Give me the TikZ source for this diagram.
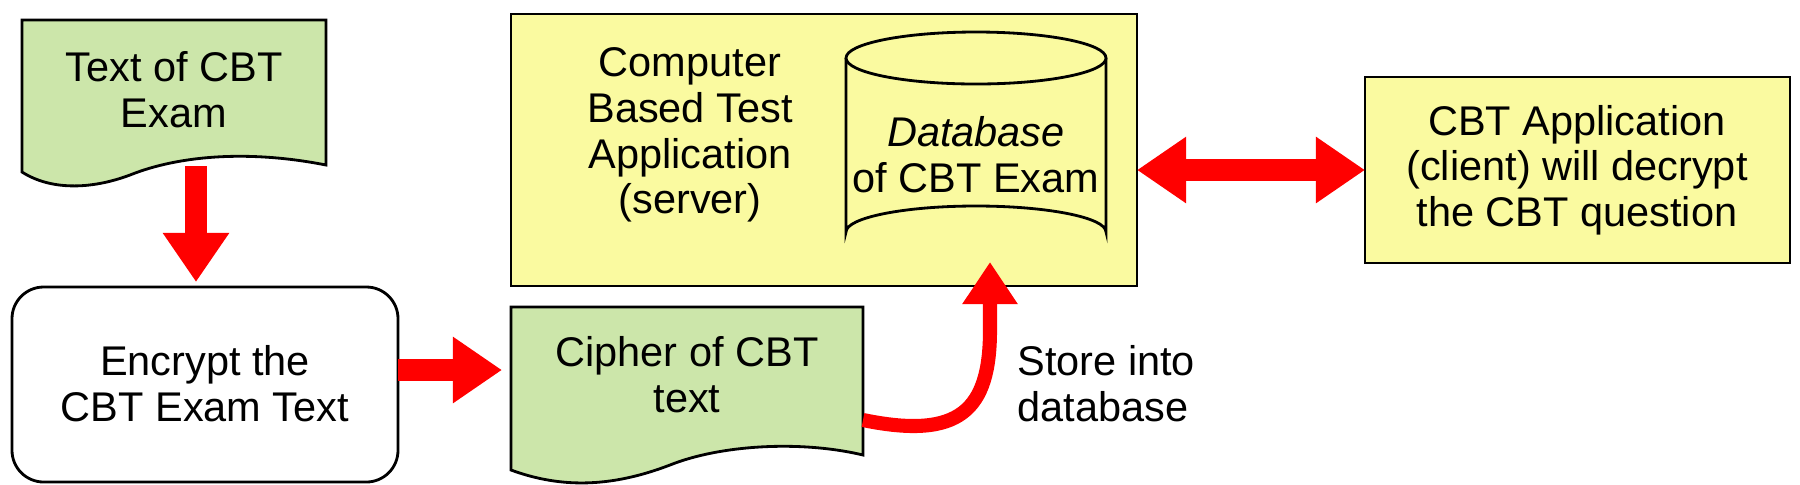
\documentclass[tikz,border=0pt]{standalone}
\usepackage{fontspec}
\setmainfont{Liberation Sans}
\usetikzlibrary{shapes.geometric,arrows.meta}
\definecolor{docgreen}{HTML}{CCE6AA}
\definecolor{boxyellow}{HTML}{FAFAA0}
\tikzset{
  txt/.style={font=\fontsize{11.8}{13}\selectfont, align=center},
  fat/.style={red, line width=6pt, -{Triangle[length=14pt,width=18pt]}},
  fatboth/.style={red, line width=6pt, {Triangle[length=14pt,width=18pt]}-{Triangle[length=14pt,width=18pt]}},
  outl/.style={draw=black, line width=0.8pt},
}
\begin{document}
\begin{tikzpicture}[x=0.01cm,y=-0.01cm]
\useasboundingbox (0,0) rectangle (1800,484);
% document 1
\draw[outl, fill=docgreen] (22,20) -- (326,20) -- (326,165)
  .. controls (250,150) and (180,155) .. (130,175)
  .. controls (90,190) and (50,190) .. (22,172) -- cycle;
\node[txt] (t1) at (174,90) {Text of CBT\\Exam};
% encrypt
\draw[outl, rounded corners=9pt] (12,287) rectangle (398,482);
\node[txt] (e) at (205,384) {Encrypt the\\CBT Exam Text};
\coordinate (a1s) at (196,166);
\coordinate (a1e) at (196,282);
\draw[fat] (a1s) -- (a1e);
\coordinate (a2s) at (398,370);
\coordinate (a2e) at (502,370);
\draw[fat] (a2s) -- (a2e);
% cipher doc
\draw[outl, fill=docgreen] (511,307) -- (863,307) -- (863,455)
  .. controls (800,440) and (720,445) .. (670,465)
  .. controls (610,488) and (560,488) .. (511,470) -- cycle;
\node[txt] (c) at (687,375) {Cipher of CBT\\text};
% server box
\draw[outl, fill=boxyellow] (511,14) rectangle (1137,286);
\node[txt] (srv) at (690,135) {Computer\\Based Test\\Application\\(server)};
% cylinder
\draw[outl, fill=boxyellow] (846,58) -- (846,232) arc[start angle=180,end angle=360,x radius=130,y radius=26] -- (1106,58);
\draw[outl, fill=boxyellow] (976,58) ellipse[x radius=130,y radius=26];
\node[txt] (db) at (976,155) {\textit{Database}\\of CBT Exam};
\coordinate (dbb) at (990,262);
% client
\draw[outl, fill=boxyellow] (1365,77) rectangle (1790,263);
\node[txt] (cl) at (1577,170) {CBT Application\\(client) will decrypt\\the CBT question};
\coordinate (d1) at (1137,170);
\coordinate (d2) at (1365,170);
\draw[fatboth] (d1) -- (d2);
% store arrow
\coordinate (s0) at (863,420);
\draw[red, line width=4pt, -{Triangle[length=12pt,width=15pt]}] (s0) .. controls (960,440) and (990,410) .. (990,330) -- (dbb);
\node[txt, align=left, anchor=west] (st) at (1005,384) {Store into\\database};
\end{tikzpicture}
\end{document}
